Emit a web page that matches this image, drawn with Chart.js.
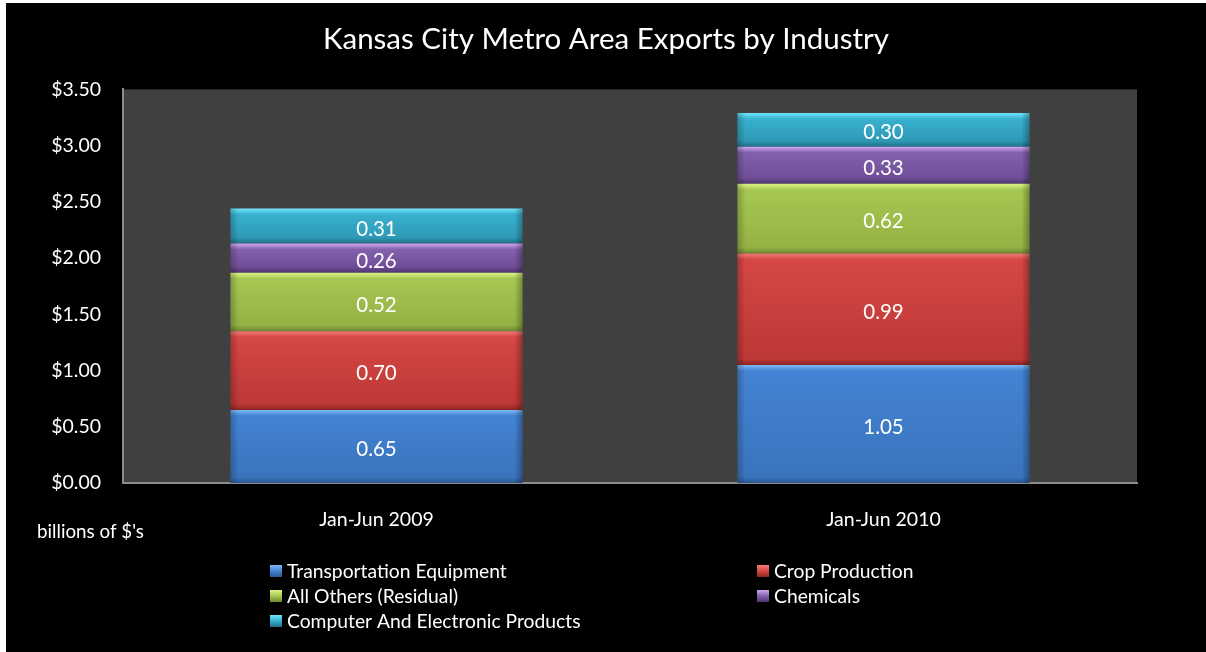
<!DOCTYPE html>
<html>
<head>
<meta charset="utf-8">
<script src="https://cdn.jsdelivr.net/npm/chart.js@4.4.1/dist/chart.umd.min.js"></script>
<style>
  html, body { margin: 0; padding: 0; background: #ffffff; width: 1206px; height: 652px; overflow: hidden; }
  #wrap { position: absolute; left: 6px; top: 3px; width: 1200px; height: 649px; background: #000; }
  canvas { display: block; }
</style>
</head>
<body>
<div id="wrap"><canvas id="c" width="1200" height="649"></canvas></div>
<script>
// ---- data ----
const categories = ['Jan-Jun 2009', 'Jan-Jun 2010'];
const seriesNames = ['Transportation Equipment', 'Crop Production', 'All Others (Residual)', 'Chemicals', 'Computer And Electronic Products'];
const transportation = [0.65, 1.05];
const crop = [0.70, 0.99];
const allOthers = [0.52, 0.62];
const chemicals = [0.26, 0.33];
const computer = [0.31, 0.30];
const yTicks = [0, 0.5, 1.0, 1.5, 2.0, 2.5, 3.0, 3.5];
const titleText = 'Kansas City Metro Area Exports by Industry';
const unitText = "billions of $'s";

// ---- styles ----
const FONT = 'Lato, "Open Sans", sans-serif';
const palettes = [
  { light: '#7db8f5', face: '#4383d3', faceDark: '#3a74bd', dark: '#2a568f' },
  { light: '#f27d78', face: '#d54744', faceDark: '#bd3836', dark: '#8c2624' },
  { light: '#dcf588', face: '#a6c752', faceDark: '#94b244', dark: '#6c8530' },
  { light: '#cfa8f2', face: '#8260ad', faceDark: '#704f98', dark: '#4e3570' },
  { light: '#6fe6fb', face: '#38b0cf', faceDark: '#2f9ab6', dark: '#1f6f84' }
];

function barFill(pal) {
  return function (ctx) {
    const chart = ctx.chart;
    if (!chart.chartArea || ctx.type !== 'data') return pal.face;
    const ys = chart.scales.y;
    const i = ctx.dataIndex, d = ctx.datasetIndex;
    let base = 0;
    for (let k = 0; k < d; k++) base += chart.data.datasets[k].data[i];
    const topPx = ys.getPixelForValue(base + chart.data.datasets[d].data[i]);
    const botPx = ys.getPixelForValue(base);
    const h = Math.max(1, botPx - topPx);
    const t = Math.min(0.45, 6 / h);
    const g = chart.ctx.createLinearGradient(0, topPx, 0, botPx);
    g.addColorStop(0, pal.light);
    g.addColorStop(t, pal.face);
    g.addColorStop(1 - t, pal.faceDark);
    g.addColorStop(1, pal.dark);
    return g;
  };
}

const seriesData = [transportation, crop, allOthers, chemicals, computer];
const datasets = seriesNames.map((name, k) => ({
  label: name,
  data: seriesData[k],
  backgroundColor: barFill(palettes[k]),
  borderWidth: 0,
  categoryPercentage: 1.0,
  barPercentage: 0.576
}));

// plot area background + bevel sides + value labels + legend + unit text
const decorPlugin = {
  id: 'decor',
  beforeDraw(chart) {
    const { ctx, chartArea: a } = chart;
    ctx.save();
    ctx.fillStyle = '#000000';
    ctx.fillRect(0, 0, chart.width, chart.height);
    ctx.fillStyle = '#404040';
    ctx.fillRect(a.left, a.top, a.right - a.left, a.bottom - a.top);
    ctx.restore();
  },
  afterDatasetsDraw(chart) {
    const ctx = chart.ctx;
    ctx.save();
    chart.data.datasets.forEach((ds, d) => {
      const meta = chart.getDatasetMeta(d);
      meta.data.forEach((el, i) => {
        const p = el.getProps(['x', 'y', 'base', 'width'], true);
        const left = p.x - p.width / 2, right = p.x + p.width / 2;
        const top = p.y, bot = p.base, h = bot - top;
        let g = ctx.createLinearGradient(left, 0, left + 8, 0);
        g.addColorStop(0, 'rgba(0,0,0,0.22)');
        g.addColorStop(1, 'rgba(0,0,0,0)');
        ctx.fillStyle = g;
        ctx.fillRect(left, top, 8, h);
        g = ctx.createLinearGradient(right - 8, 0, right, 0);
        g.addColorStop(0, 'rgba(0,0,0,0)');
        g.addColorStop(1, 'rgba(0,0,0,0.3)');
        ctx.fillStyle = g;
        ctx.fillRect(right - 8, top, 8, h);
        const c = el.getCenterPoint();
        ctx.fillStyle = '#ffffff';
        ctx.font = '20.5px ' + FONT;
        ctx.textAlign = 'center';
        ctx.textBaseline = 'middle';
        ctx.fillText(ds.data[i].toFixed(2), c.x, c.y + 3);
      });
    });
    ctx.restore();
  },
  afterDraw(chart) {
    const ctx = chart.ctx;
    ctx.save();
    ctx.fillStyle = '#ffffff';
    ctx.font = '18.8px ' + FONT;
    ctx.textAlign = 'left';
    ctx.textBaseline = 'middle';
    ctx.fillText(unitText, 31, 529);
    const colX = [264, 751];
    const rowY = [568, 593, 618];
    seriesNames.forEach((name, k) => {
      const x = colX[k % 2], y = rowY[Math.floor(k / 2)];
      const pal = palettes[k];
      const g = ctx.createLinearGradient(x, y - 6, x, y + 6);
      g.addColorStop(0, pal.light);
      g.addColorStop(0.5, pal.face);
      g.addColorStop(1, pal.dark);
      ctx.fillStyle = g;
      ctx.fillRect(x, y - 6, 12, 12);
      ctx.fillStyle = '#ffffff';
      ctx.font = '19.3px ' + FONT;
      ctx.fillText(name, x + 17, y + 1);
    });
    ctx.restore();
  }
};

new Chart(document.getElementById('c'), {
  type: 'bar',
  data: { labels: categories, datasets: datasets },
  options: {
    responsive: false,
    animation: false,
    layout: { padding: { left: 0, right: 0, top: 0, bottom: 109 } },
    plugins: {
      legend: { display: false },
      tooltip: { enabled: false },
      title: {
        display: true,
        text: titleText,
        color: '#ffffff',
        font: { family: FONT, size: 29.5, weight: 'normal' },
        padding: { top: 19, bottom: 32 }
      }
    },
    scales: {
      x: {
        stacked: true,
        grid: { display: false, drawTicks: false },
        border: { display: true, color: '#8c8c8c', width: 2 },
        ticks: { color: '#ffffff', font: { family: FONT, size: 19.5 }, padding: 25 },
        afterFit(scale) { scale.height = 60; }
      },
      y: {
        stacked: true,
        min: 0,
        max: 3.5,
        afterBuildTicks(scale) { scale.ticks = yTicks.map(v => ({ value: v })); },
        grid: { display: false, drawTicks: false },
        border: { display: true, color: '#8c8c8c', width: 2 },
        ticks: {
          color: '#ffffff',
          font: { family: FONT, size: 19.5 },
          padding: 22,
          callback: v => '$' + Number(v).toFixed(2)
        },
        afterFit(scale) { scale.width = 117; }
      },
      yRight: {
        position: 'right',
        display: true,
        min: 0,
        max: 3.5,
        grid: { display: false, drawTicks: false },
        border: { display: false },
        ticks: { display: false },
        afterFit(scale) { scale.width = 69; }
      }
    }
  },
  plugins: [decorPlugin]
});
</script>
</body>
</html>
